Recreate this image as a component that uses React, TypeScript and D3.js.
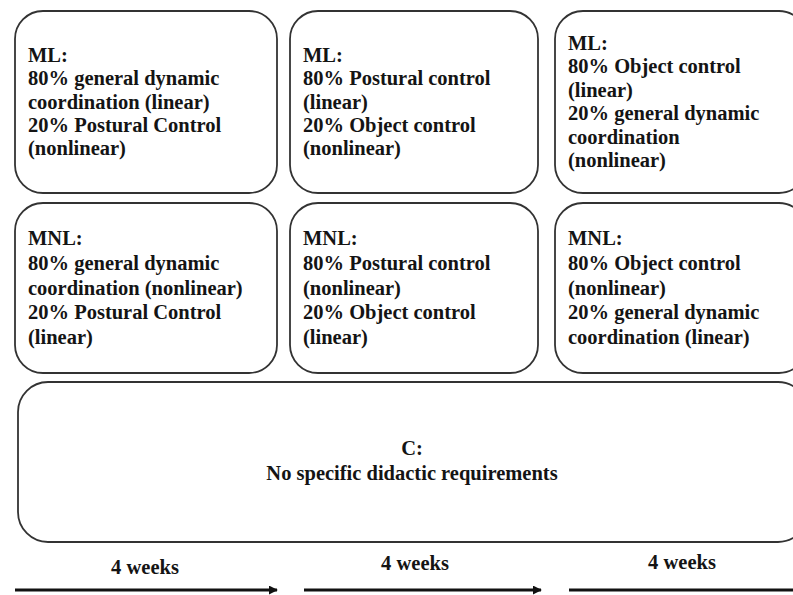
import React from "react";
import * as d3 from "d3";

// group labels per row: row 1 = ML, row 2 = MNL
const groups = ["ML:", "MNL:"];

const mlLines = [
  ["80% general dynamic", "coordination (linear)", "20% Postural Control", "(nonlinear)"],
  ["80% Postural control", "(linear)", "20% Object control", "(nonlinear)"],
  ["80% Object control", "(linear)", "20% general dynamic", "coordination", "(nonlinear)"],
];

const mnlLines = [
  ["80% general dynamic", "coordination (nonlinear)", "20% Postural Control", "(linear)"],
  ["80% Postural control", "(nonlinear)", "20% Object control", "(linear)"],
  ["80% Object control", "(nonlinear)", "20% general dynamic", "coordination (linear)"],
];

const controlLines = ["C:", "No specific didactic requirements"];
const phases = ["4 weeks", "4 weeks", "4 weeks"];

const W = 793;
const H = 595;
const FONT = "'Liberation Serif', 'Times New Roman', serif";
const FS = 20.5;

export default function App() {
  // column edges (boxes are not quite equal width)
  const colX = [15, 290, 555];
  const colW = [262, 248, 252];
  const rowY = d3.scaleOrdinal<string, number>().domain(groups).range([11, 203]);
  const rowH = [182, 170];
  const lineH = [23.4, 24.7];

  const rows = [mlLines, mnlLines];

  const arrowSegs = phases.map((p, i) => ({
    x0: [15, 304, 569][i],
    x1: [277, 541, 812][i],
    cx: [145, 415, 682][i],
    ly: [574, 570, 569][i],
    label: p,
  }));

  return (
    <svg width={W} height={H} style={{ position: "absolute", left: 0, top: 0, background: "#fff" }}>
      <defs>
        <marker id="head" viewBox="0 0 10 10" refX="9" refY="5" markerWidth="3" markerHeight="3" orient="auto">
          <path d="M0,0 L10,5 L0,10 z" fill="#111" />
        </marker>
      </defs>
      <rect width={W} height={H} fill="#fff" />
      {rows.map((cols, r) =>
        cols.map((lines, c) => {
          const all = [groups[r], ...lines];
          const y0 = rowY(groups[r]);
          const h = rowH[r];
          const cy = y0 + h / 2;
          const first = cy - ((all.length - 1) * lineH[r]) / 2 + 6.5;
          return (
            <g key={`${r}-${c}`}>
              <rect
                x={colX[c]}
                y={y0}
                width={colW[c]}
                height={h}
                rx={28}
                ry={28}
                fill="#fff"
                stroke="#333"
                strokeWidth={1.8}
              />
              {all.map((t, i) => (
                <text
                  key={i}
                  x={colX[c] + 13}
                  y={first + i * lineH[r]}
                  fontFamily={FONT}
                  fontWeight="bold"
                  fontSize={FS}
                  fill="#141414"
                >
                  {t}
                </text>
              ))}
            </g>
          );
        })
      )}
      <rect x={18} y={382} width={790} height={160} rx={30} ry={30} fill="#fff" stroke="#333" strokeWidth={1.8} />
      {controlLines.map((t, i) => (
        <text
          key={i}
          x={412}
          y={455 + i * 25}
          textAnchor="middle"
          fontFamily={FONT}
          fontWeight="bold"
          fontSize={FS}
          fill="#141414"
        >
          {t}
        </text>
      ))}
      {arrowSegs.map((s, i) => (
        <g key={i}>
          <text x={s.cx} y={s.ly} textAnchor="middle" fontFamily={FONT} fontWeight="bold" fontSize={FS} fill="#141414">
            {s.label}
          </text>
          <line x1={s.x0} x2={s.x1} y1={590} y2={590} stroke="#111" strokeWidth={3} markerEnd="url(#head)" />
        </g>
      ))}
    </svg>
  );
}
